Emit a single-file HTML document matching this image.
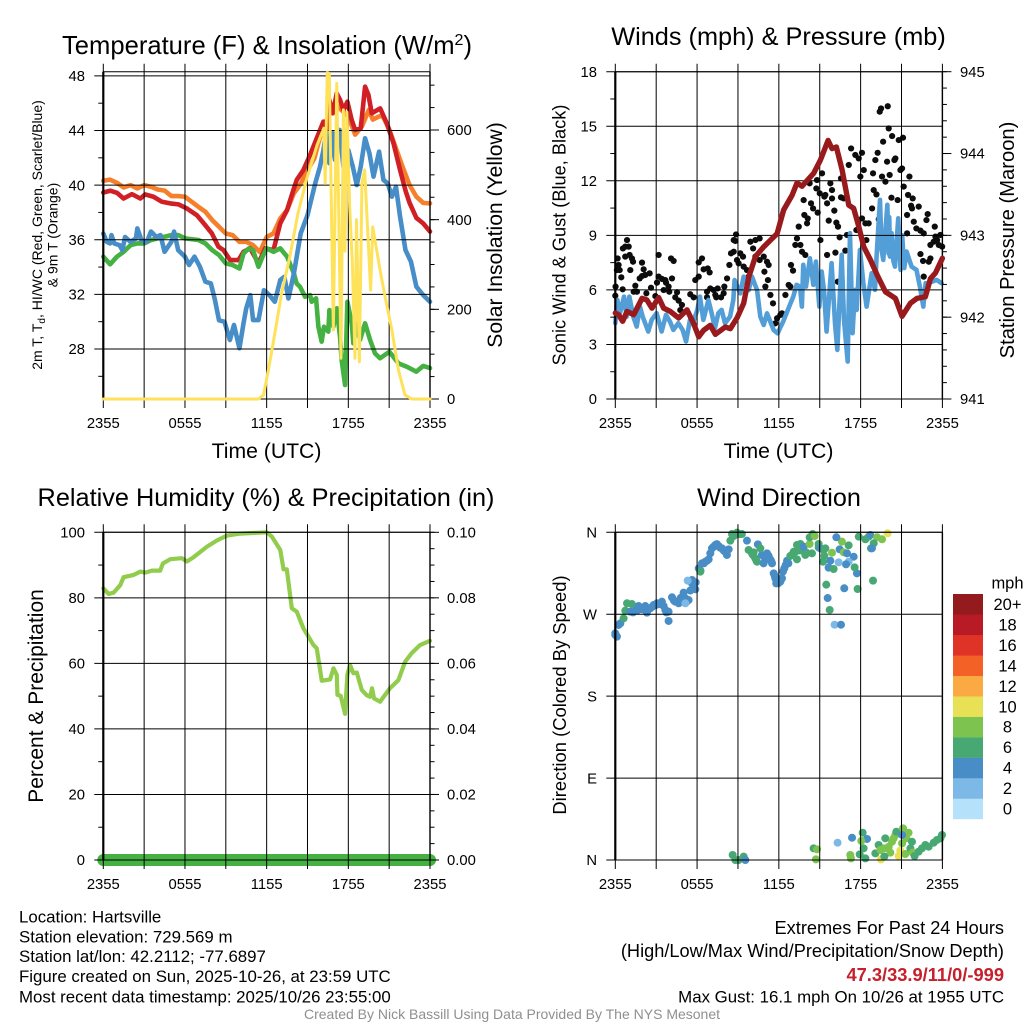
<!DOCTYPE html>
<html lang="en">
<head>
<meta charset="utf-8">
<title>Hartsville Station Meteogram</title>
<style>
html,body{margin:0;padding:0;background:#fff;width:1024px;height:1024px;overflow:hidden}
svg{display:block}
text{font-family:"Liberation Sans",sans-serif;fill:#000}
</style>
</head>
<body>
<svg id="chart" xmlns="http://www.w3.org/2000/svg" width="1024" height="1024" viewBox="0 0 1024 1024">
<rect x="0" y="0" width="1024" height="1024" fill="#fff"/>
<g id="marks"></g>
<text x="267" y="54" font-size="25.6" text-anchor="middle">Temperature (F) &amp; Insolation (W/m<tspan dy="-9" font-size="16">2</tspan><tspan dy="9">)</tspan></text>
<text x="778.5" y="45" font-size="25.3" text-anchor="middle">Winds (mph) &amp; Pressure (mb)</text>
<text x="266" y="506" font-size="25.3" text-anchor="middle">Relative Humidity (%) &amp; Precipitation (in)</text>
<text x="779" y="506" font-size="25.2" text-anchor="middle">Wind Direction</text>
<text x="266.5" y="458" font-size="21.2" text-anchor="middle">Time (UTC)</text>
<text x="778.5" y="458" font-size="21.2" text-anchor="middle">Time (UTC)</text>
<text transform="translate(42,235) rotate(-90)" font-size="14" text-anchor="middle">2m T, T<tspan dy="3" font-size="10">d</tspan><tspan dy="-3">, HI/WC (Red, Green, Scarlet/Blue)</tspan></text>
<text transform="translate(57.5,235) rotate(-90)" font-size="14" text-anchor="middle">&amp; 9m T (Orange)</text>
<text transform="translate(502,235) rotate(-90)" font-size="21.1" text-anchor="middle">Solar Insolation (Yellow)</text>
<text transform="translate(565.5,235) rotate(-90)" font-size="18.2" text-anchor="middle">Sonic Wind &amp; Gust (Blue, Black)</text>
<text transform="translate(1014,240) rotate(-90)" font-size="20.2" text-anchor="middle">Station Pressure (Maroon)</text>
<text transform="translate(43,696) rotate(-90)" font-size="21" text-anchor="middle">Percent &amp; Precipitation</text>
<text transform="translate(566,695) rotate(-90)" font-size="18.4" text-anchor="middle">Direction (Colored By Speed)</text>
<g font-size="16.85">
<text x="19" y="922.5">Location: Hartsville</text>
<text x="19" y="942.5">Station elevation: 729.569 m</text>
<text x="19" y="962">Station lat/lon: 42.2112; -77.6897</text>
<text x="19" y="982">Figure created on Sun, 2025-10-26, at 23:59 UTC</text>
<text x="19" y="1002.5">Most recent data timestamp: 2025/10/26 23:55:00</text>
</g>
<g text-anchor="end">
<text x="1004" y="934" font-size="18.2">Extremes For Past 24 Hours</text>
<text x="1004" y="957" font-size="18.2">(High/Low/Max Wind/Precipitation/Snow Depth)</text>
<text x="1004" y="981" font-size="18.3" font-weight="bold" style="fill:#c5202b">47.3/33.9/11/0/-999</text>
<text x="1004" y="1002.5" font-size="16.85">Max Gust: 16.1 mph On 10/26 at 1955 UTC</text>
</g>
<text x="512" y="1019" font-size="14" text-anchor="middle" style="fill:#8f8f8f">Created By Nick Bassill Using Data Provided By The NYS Mesonet</text>
</svg>
<script>
const gridHours = [0,3,6,9,12,15,18,21,24];
const timeTickHours = [0,6,12,18,24];
const timeTickLabels = ['2355','0555','1155','1755','2355'];

const tempTicks = [28,32,36,40,44,48];
const solarTicks = [0,200,400,600];
const windTicks = [0,3,6,9,12,15,18];
const pressureTicks = [941,942,943,944,945];
const humidityTicks = [0,20,40,60,80,100];
const precipTicks = ['0.00','0.02','0.04','0.06','0.08','0.10'];
const directionTicks = [0,90,180,270,360];
const directionLabels = ['N','E','S','W','N'];
const speedLabels = ['0','2','4','6','8','10','12','14','16','18','20+'];
const speedColors = ['#b5e2fa','#7cb9e6','#488dc5','#48a873','#7cc44f','#e8e055','#fba943','#f46127','#e03327','#b81b26','#951a1e'];

const orangeHours = [0,0.5,1,1.5,2,2.5,3,3.5,4,4.5,5,5.5,6,6.5,7,7.5,8,8.5,9,9.5,10,10.5,11,11.5,12,12.5,13,13.5,14,14.5,15,15.5,16,16.5,17,18,18.5,19,19.5,19.8,20.2,20.5,21,21.5,22,22.5,23,23.5,24];
const orangeTemp = [40.32,40.4,40.17,39.83,40,39.76,40,39.88,39.68,39.6,39.2,39.2,39.15,38.78,38.4,38.05,37.44,36.95,36.46,36.34,35.85,35.85,35.6,35.1,36.2,36.46,37.56,38.17,39.4,40.1,41.1,41.95,43.8,45,46,45,43.7,44.3,45.5,44.8,45,45.1,44.1,42.7,41.3,40,39.15,38.7,38.66];

const redHours = [0,0.51,1,1.49,2.1,2.72,3.08,3.69,4.31,4.92,5.53,6.14,6.87,7.49,7.98,8.46,8.83,9.32,9.93,10.3,10.79,11.4,11.89,12.5,13,13.5,14,14.21,14.7,15.19,15.68,16.17,16.42,16.61,16.86,17.15,17.4,17.64,17.93,18.25,18.5,18.91,19.23,19.48,19.72,20.34,20.83,21.32,21.8,22.2,22.5,23,23.5,24];
const redTemp = [39.46,39.59,39.44,39.02,39.34,39.02,39.32,39.15,38.78,38.66,38.59,38.29,37.8,37.07,36.46,35.49,35.24,34.51,34.51,35.12,35.37,34.27,35.37,35.24,37.2,38.17,39.76,40.38,41.11,42.21,43.43,44.65,44.16,46.23,45.26,46.72,46.23,45.5,46.11,44.77,44.04,44.16,47.21,46.6,45.26,45.62,44.53,43.06,41.11,39.6,38.7,37.6,37.2,36.6];

const blueHours = [0,0.25,0.5,0.6,0.8,1.2,1.4,1.6,2,2.4,2.5,2.8,3.2,3.5,3.9,4.2,4.5,5,5.2,5.5,6,6.3,6.7,7.1,7.5,7.9,8.2,8.5,8.9,9.3,9.6,10,10.3,10.5,10.8,11,11.4,11.8,12.2,12.6,13,13.3,13.6,14,14.5,15,15.56,15.92,16.17,16.37,16.61,16.86,17.03,17.35,17.64,18,18.33,18.62,18.91,19.23,19.55,19.85,20.26,20.58,20.9,21.2,21.5,21.8,22.2,22.6,23,23.5,24];
const blueTemp = [36.46,35.85,35.73,36.34,35.73,35.6,35.24,36.2,35.85,36.1,36.83,35.98,35.85,36.6,36.2,36.34,35.12,35.85,36.6,35.24,34.76,34.15,34.76,34.02,32.93,32.8,31.6,30.1,30,28.66,29.76,28.05,29.88,30.98,31.95,30.12,30.12,32.3,31.95,31.46,33.05,33.29,31.7,33.54,36.46,37.8,40.1,41.35,42.57,43.9,41.6,43.8,41.84,44.04,41.35,42.57,41.35,40,41.35,43.43,42.33,40.62,42.45,40.38,40.12,39.15,39.88,37.7,35.24,34.4,32.56,31.95,31.46];

const greenHours = [0,0.5,1,1.5,2,2.5,3,3.5,4,5,5.5,6,7,7.5,8,8.5,9,9.5,10,10.3,10.7,11,11.4,11.7,12,12.5,13,13.5,14,14.2,14.45,14.82,15.19,15.31,15.63,15.8,16.04,16.21,16.53,16.61,16.9,17.15,17.39,17.51,17.76,17.93,18.25,18.37,18.62,18.86,19.23,19.6,19.96,20.33,21.02,21.68,22.3,23,23.5,24];
const greenTemp = [34.76,34.2,34.76,35.12,35.6,35.73,35.73,35.98,36.1,36.34,36.34,36.1,35.98,35.73,35.24,34.88,34.27,34.15,33.9,35,35.37,35.24,34.02,34.76,35.37,35.12,35.37,34.76,33.54,32.8,32.56,31.83,31.95,31.46,31.71,29.63,28.54,29.63,29.27,30.85,29.63,30.98,28.9,27.19,25.36,31.46,29.88,28.41,29.88,28.66,29.88,28.66,27.68,27.32,27.8,26.95,26.7,26.34,26.76,26.6];

const solarHours = [0,11.4,11.77,12.13,12.6,13.1,13.7,14.3,14.95,15.7,16.2,16.3,16.45,16.6,16.9,17.15,17.46,17.64,17.75,17.9,18.1,18.3,18.49,18.6,18.81,19,19.2,19.35,19.64,19.79,20.33,20.7,21.2,21.68,22.16,22.65,24];
const solarValues = [0,0,9,65,146,236,317,414,492,566,604,481,728,726,154,704,91,645,330,640,428,300,91,400,83,481,511,420,243,384,288,228,154,65,9,0,0];

const windHours = [0,0.15,0.34,0.64,0.83,1.03,1.32,1.57,1.81,2.01,2.42,2.67,3.03,3.4,3.72,4.01,4.26,4.62,4.94,5.19,5.48,5.73,6.02,6.21,6.46,6.83,7.07,7.31,7.56,7.8,8.05,8.42,8.66,8.75,9.17,9.42,9.79,10.03,10.4,10.64,10.89,11.13,11.62,11.91,12.08,12.32,12.81,13.06,13.3,13.55,13.69,13.79,13.99,14.28,14.53,14.72,14.97,15.14,15.31,15.5,15.87,16.12,16.29,16.61,16.78,17.05,17.22,17.41,17.58,17.71,17.95,18.2,18.44,18.81,19.05,19.17,19.42,19.54,19.66,19.96,20.05,20.1,20.15,20.27,20.4,20.52,20.76,20.93,21.05,21.2,21.37,21.74,22.1,22.35,22.6,22.77,22.97,23.58,23.94];
const windValues = [4.17,5.45,4.72,5.63,4.53,5.63,4.53,3.98,5.08,4.53,3.71,4.35,4.72,3.71,4.63,4.26,3.8,4.17,3.8,3.16,4.35,4.26,4.9,5.63,4.35,5.45,4.72,3.89,4.72,4.9,4.17,4.53,5.45,6.54,5.81,6.73,5.99,6.73,5.99,4.53,4.07,4.71,3.79,3.61,3.89,4.26,5.18,5.63,6.28,6.18,5.08,7.38,6.18,7.74,6.28,7.56,5.08,7.01,6,3.71,7.47,4.17,2.7,7.93,4.35,2.06,9.12,3.62,6,4.9,8.2,6.37,5.08,6.92,6,7.83,10.95,8.2,7.65,10.68,8,10,7.83,9.12,7.6,7.28,9.94,7.1,9,7.2,8.11,7.28,7.1,6.18,5.08,6.37,6.37,6.55,6.37];

const gustHours = [0,0.02,0.12,0.17,0.24,0.32,0.44,0.54,0.56,0.73,0.86,0.98,0.73,1.05,1.22,1.3,1.1,1.35,1.47,1.59,1.79,1.96,2.08,1.96,2.2,2.52,2.28,2.62,2.94,3.06,3.18,3.18,3.43,3.67,3.72,3.91,3.96,4.16,4.09,4.28,3.55,4.53,4.4,4.65,4.89,4.77,5.5,5.75,5.87,6.12,6.12,6.36,6.48,6.78,6.92,6.73,6.73,6.97,7.22,7.34,7.51,7.41,7.76,7.95,8,8.2,8.37,8.49,8.69,8.69,8.86,8.81,8.93,9.17,9.37,9.05,9.42,9.66,9.79,9.91,10.11,10.28,10.59,10.28,10.59,10.89,11.13,11.25,10.94,11.2,11.01,11.38,11.57,11.87,12.11,12.23,11.74,12.48,12.72,12.84,12.89,13.04,13.21,13.33,13.46,13.58,13.7,13.94,13.82,13.87,14.07,14.12,14.26,14.36,14.51,14.8,14.75,14.85,15,15.05,15.17,15.34,15.41,15.54,15.78,15.9,15.9,16.07,15.66,16.22,16.34,16.46,16.56,16.76,16.56,17.13,17.3,17.61,17.86,18.1,17.98,18.23,17,16.15,16.88,15.54,16.32,17.69,18.1,18.35,18.59,18.42,18.84,18.96,19.16,19.08,19.25,18.91,19.33,19.4,19.5,19.99,19.65,20.06,20.31,19.94,19.57,19.82,20.13,20.55,20.48,20.92,21.04,20.8,21.11,21.58,20.26,20.72,21.16,21.48,21.82,21.7,21.77,21.41,22.26,21.9,21.41,22.09,22.39,22.63,22.92,22.83,22.39,22.58,23.12,23,22.63,23.12,23.44,23.36,23.61,23.85,23.73,23.98,23.49];
const gustValues = [5.68,6.18,7.09,7.73,7.37,7.09,6.69,6.03,8.28,8.38,8.74,8.38,7.83,7.92,7.73,7.55,7.09,5.9,6.23,5.9,6.63,7.5,7.13,6.76,6.82,6.91,5.81,6.12,5.66,6.4,7.92,6.73,6.6,6.54,6.4,6.18,5.9,6.63,7.73,7.59,5.99,5.87,5.59,5.41,5.17,4.89,5.76,5.59,6.54,6.73,7.51,7.73,7.13,7.18,6.96,5.9,5.59,6.08,5.99,5.72,6.08,5.59,5.59,5.81,6.18,6.63,7.37,8.01,8.1,8.74,9.05,8.69,7.64,8.01,7.83,7.46,7.28,7.09,6.73,8.65,8.28,8.74,8.83,7.83,7.64,7.83,7.55,7.37,7,6.54,6.18,5.72,5.26,4.44,4.62,4.71,4.16,5.72,6.27,6.18,7.37,7.06,8.47,8.83,9.48,8.47,8.1,7.92,10.94,10.12,9.66,9.93,11.86,10.76,10.48,12.04,11.58,10.25,11.31,8.74,12.41,11.13,11.22,10.76,11.86,11.49,11.03,10.36,9.81,9.7,9.48,8.89,11.09,11.03,12.13,12.87,13.78,13.42,13.23,13.54,12.23,12.59,9.02,8.05,8.16,7.92,6.45,9.29,9.93,9.66,9.66,8.74,10.48,11.49,11.25,13.14,13.54,12.41,9.88,15.8,15.98,16.1,14.15,14.88,14.46,13.05,12.23,11.95,12.32,13.23,13.14,12.59,12.68,14.24,14.37,12.23,11.07,10.94,11.68,11.22,11.03,10.63,10.48,10.12,10.58,9.75,9.11,9.38,9.26,9.11,10.17,9.84,7.97,7.59,7.73,7.55,6.73,8.47,9.48,8.65,8.74,9.02,8.47,8.38,8.93];

const pressureHours = [0,0.24,0.54,0.86,1.35,1.96,2.32,2.69,3.18,3.55,4.04,4.65,5.26,5.75,6.12,6.48,6.97,7.34,8.07,8.44,8.93,9.42,9.79,10.28,10.89,11.5,11.87,12.35,12.97,13.33,13.7,14.56,15.05,15.61,15.9,16.22,16.64,17.13,17.49,17.86,18.23,18.72,19.2,19.82,20.55,21.04,21.65,22.14,22.75,23.12,23.49,24];
const pressureValues = [942.05,942.03,941.95,942.07,942.03,942.23,942.21,942.11,942.24,942.11,942.07,941.99,942.09,941.92,941.76,941.84,941.9,941.79,941.88,941.86,941.99,942.17,942.49,942.74,942.86,942.96,943.02,943.31,943.49,943.64,943.6,943.76,943.92,944.16,944.06,944.08,943.8,943.37,943.33,943.11,942.86,942.7,942.52,942.31,942.23,942.01,942.17,942.23,942.25,942.47,942.54,942.72];

const humidityHours = [0,0.39,0.76,1.25,1.49,2.23,2.72,3.08,3.57,4.18,4.38,4.92,5.77,6.14,6.63,7.61,8.34,9.08,10.06,12.01,12.38,13,13.24,13.48,13.85,14.21,14.7,15.44,15.68,16.05,16.66,16.91,17.15,17.2,17.44,17.76,17.93,18.13,18.37,18.62,18.99,19.35,19.6,19.74,19.89,20.33,21.06,21.68,22.17,22.65,23.27,24];
const humidityValues = [82.9,81.2,81.6,83.9,86.3,87,88,87.7,88.3,88.3,90.5,91.8,92.1,91.1,92.4,95.6,97.5,99,99.6,100,98.7,94.6,88.7,88.7,76.8,75.8,70.7,65.6,64.6,54.7,55.1,58.5,56.5,50.4,50.1,44.6,56.5,59.5,57,57.2,51.9,50.3,49.8,52.4,49.3,48.3,52.4,54.9,60.5,63.1,65.6,66.9];

const precipHours = [0,24];
const precipValues = [0,0];

const directionHours = [1.3,1.6,1.85,2.1,2.4,2.7,2.95,3.2,3.55,3.75,4.3,4.55,4.8,5.25,5.5,5.75,5.9,6.25,6.5,6.75,7.2,7.45,7.7,7.95,8.1,10.75,11,11.25,11.45,11.7,11.95,12.5,12.7,8.7,9.1,10.1,10.35,10.15,13,13.45,13.7,14,0,0,0.12,0.24,0.37,0.61,0.73,0.86,1.22,1.1,1.47,1.71,1.96,2.2,2.32,2.57,2.81,3.06,3.42,3.67,3.91,3.91,4.16,4.4,4.65,5.01,5.38,5.14,5.63,5.87,5.63,5.31,5.14,6.12,6.24,6.36,6.6,6.85,6.97,7.09,7.34,7.58,7.83,8.19,8.32,8.44,8.56,8.93,9.29,9.66,10.46,9.78,10.03,10.27,10.64,10.4,10.88,11.13,11.37,11.5,11.62,11.74,11.81,12.11,12.23,12.3,12.4,12.6,12.84,13.09,13.33,13.58,13.21,13.82,13.33,13.94,14.43,14.26,14.26,14.48,14.63,14.92,14.92,15.04,15.29,15.41,15.34,15.24,15.9,15.78,15.65,16.02,15.48,15.58,15.73,16.09,16.56,16.8,17.78,18.91,17.73,17.56,17.49,17.12,16.63,16.22,16.46,16.76,17,17.12,16.93,16.39,17.86,18.35,18.59,18.71,19.2,19.57,19.98,18.96,18.76,18.83,8.61,8.81,9.05,9.42,9.54,14.55,14.8,14.72,16.31,17.37,18.15,18.47,18.05,18.22,17.24,17.29,17.93,18.35,19.32,19.08,19.81,19.45,19.74,20.06,20.3,20.42,20.55,20.62,20.18,19.49,19.74,21.11,21.52,21.35,21.04,21.04,20.79,20.91,21.28,21.77,21.65,21.82,21.96,22.26,22.5,22.75,22.99,23.36,23.6,23.85,23.97];
const directionDegrees = [272,274,276,276,275,278,280,281,279,272,285,284,288,284,296,300,305,318,326,329,344,347,343,340,338,335,330,334,328,312,304,324,326,356,358,335,329,338,336,340,340,338,249,247.2,245.4,258.2,260,265.5,273.9,282,281.2,272.8,273.9,279,275.4,279,271.7,276.5,280.1,282,283.8,274.7,262.6,272.8,288.6,283.8,282,293.7,285.6,287.5,303.9,297.4,307.6,306.9,282,320.4,316.8,325.9,327.7,330.3,336.9,342.4,346.1,345,342.4,335.1,341.3,350.8,358.1,359.6,358.1,350.8,346.8,340.6,336.9,331.4,342.4,327.7,325.9,336.9,330.3,325.9,314.9,309.4,303.9,305.8,309.4,316.8,320.4,328.8,334,338.7,346.1,347.2,338.7,344.2,330.3,335.1,336.9,347.2,354.5,358.1,356,343.5,347.2,342.4,340.6,342.4,334,327.7,337.6,328.8,321.2,319.7,302.5,287.8,274.7,258.5,258.5,298.5,297.7,306.9,314.9,321.5,333.2,345.7,349.7,354.5,341.3,338,336.9,327.7,324.8,327,355.2,352.3,355.2,357,354.5,352.3,358.9,347.9,342.4,342.4,5.5,0,0,3.7,0,12.8,11.7,0.7,19,24.5,30,23.1,20.9,12.8,5.5,1.8,6.2,1.8,16.5,7.3,23.8,11,12.8,14.6,20.1,23.8,27.5,31.1,8.1,0.7,3.7,34.8,30,23.8,27.5,18.3,4.4,10.3,6.6,20.1,12.8,8.1,4.4,9.2,12.8,16.5,14.6,19,22,23.8,27.5];
const directionSpeeds = [4,4,4,4,4,4,4,4,4,4,4,4,4,4,4,4,4,4,4,4,4,4,4,4,4,4,4,4,4,4,4,4,4,6,6,6,6,6,6,6,6,6,4,4,4,4,4,6,6,6,6,4,4,4,4,4,4,4,4,4,4,4,4,4,4,4,4,4,4,4,4,4,4,2,2,4,6,4,4,4,4,4,4,4,4,4,4,6,6,6,6,4,4,6,6,6,6,6,4,4,4,4,4,4,4,4,4,4,4,4,6,6,6,6,6,4,6,6,6,8,6,6,8,6,6,4,6,6,6,6,8,4,4,6,6,4,6,2,4,4,6,6,4,6,4,6,8,4,4,8,4,2,4,2,6,6,6,4,8,8,10,6,6,4,6,6,6,6,4,6,8,8,2,4,6,4,8,6,8,8,6,6,6,6,6,8,8,8,8,8,8,6,8,10,6,8,8,8,4,8,10,10,8,6,6,8,6,6,6,6,6,6,6,6,6];

const SVG_NS = 'http://www.w3.org/2000/svg';
const marks = document.getElementById('marks');

function lerp(v, d0, d1, p0, p1){ return p0 + (v - d0) * (p1 - p0) / (d1 - d0); }
const xLeft = h => lerp(h, 0, 24, 103.3, 430);
const xRight = h => lerp(h, 0, 24, 615.3, 942.4);
const yTemp = v => lerp(v, 44, 28, 130.5, 349);
const ySolar = v => lerp(v, 0, 600, 399, 130);
const yWind = v => lerp(v, 0, 18, 399, 71.7);
const yPressure = v => lerp(v, 941, 945, 399, 71.7);
const yHumidity = v => lerp(v, 0, 100, 860, 532.3);
const yPrecip = v => lerp(v, 0, 0.1, 860, 532.3);
const yDirection = v => lerp(v, 0, 360, 860, 532.3);

function line(parent, x1, y1, x2, y2, width, name){
  const el = document.createElementNS(SVG_NS, 'line');
  
  
  el.setAttribute('x1', x1);
  el.setAttribute('y1', y1);
  el.setAttribute('x2', x2);
  el.setAttribute('y2', y2);
  el.setAttribute('stroke', '#000');
  el.setAttribute('stroke-width', width);
  parent.appendChild(el);
  return el;
}
function label(parent, x, y, text, anchor, name){
  const el = document.createElementNS(SVG_NS, 'text');
  
  
  el.setAttribute('x', x);
  el.setAttribute('y', y);
  el.setAttribute('font-size', '14.8');
  el.setAttribute('text-anchor', anchor);
  el.textContent = text;
  parent.appendChild(el);
  return el;
}
function group(name){
  const el = document.createElementNS(SVG_NS, 'g');
  
  
  marks.appendChild(el);
  return el;
}
function series(parent, hours, values, xFn, yFn, color, width, name){
  const el = document.createElementNS(SVG_NS, 'polyline');
  
  
  el.setAttribute('points', hours.map((h, i) => xFn(h).toFixed(2) + ',' + yFn(values[i]).toFixed(2)).join(' '));
  el.setAttribute('fill', 'none');
  el.setAttribute('stroke', color);
  el.setAttribute('stroke-width', width);
  el.setAttribute('stroke-linejoin', 'round');
  el.setAttribute('stroke-linecap', 'round');
  parent.appendChild(el);
  return el;
}
function dot(parent, cx, cy, r, color, name){
  const el = document.createElementNS(SVG_NS, 'circle');
  
  
  el.setAttribute('cx', cx);
  el.setAttribute('cy', cy);
  el.setAttribute('r', r);
  el.setAttribute('fill', color);
  parent.appendChild(el);
  return el;
}
function speedColor(speed){
  const i = Math.min(speedColors.length - 1, Math.max(0, Math.round(speed / 2)));
  return speedColors[i];
}
function frame(xFn, top, bottom, yList, yFn, prefix){
  const g = group(prefix + '-grid');
  gridHours.forEach(h => {
    line(g, xFn(h), top - 8, xFn(h), bottom + 9, 1, prefix + '-vertical-gridline');
  });
  yList.forEach(v => {
    line(g, xFn(0) - 9, yFn(v), xFn(24) + 0.5, yFn(v), 1, prefix + '-horizontal-gridline');
  });
  line(g, xFn(0), top, xFn(0), bottom, 2.2, prefix + '-left-axis');
  line(g, xFn(24), top, xFn(24), bottom, 1.4, prefix + '-right-axis');
  line(g, xFn(0), top, xFn(24), top, 1, prefix + '-top-axis');
  line(g, xFn(0), bottom, xFn(24), bottom, 1, prefix + '-bottom-axis');
  timeTickHours.forEach((h, i) => {
    label(g, xFn(h), bottom + 29, timeTickLabels[i], 'middle', prefix + '-time-tick-label');
  });
  return g;
}
function leftMinors(g, xFn, values, yFn, name){
  values.forEach(v => line(g, xFn(0) - 5, yFn(v), xFn(0), yFn(v), 1, name));
}
function rightTicks(g, xFn, minors, majors, yFn, name){
  minors.forEach(v => line(g, xFn(24), yFn(v), xFn(24) + 4.5, yFn(v), 1, name + '-minor-tick'));
  majors.forEach(v => line(g, xFn(24), yFn(v), xFn(24) + 9, yFn(v), 1, name + '-major-tick'));
}
function stepped(start, stop, step){
  const out = [];
  for (let v = start; v <= stop + step / 100; v += step) out.push(v);
  return out;
}

/* Temperature & insolation panel */
const tempLines = group('temperature-series');
series(tempLines, orangeHours, orangeTemp, xLeft, yTemp, '#f57f2a', 4.6, 'nine-metre-temperature-line');
series(tempLines, redHours, redTemp, xLeft, yTemp, '#d11f26', 4.6, 'two-metre-temperature-line');
series(tempLines, greenHours, greenTemp, xLeft, yTemp, '#44b142', 4.6, 'dewpoint-line');
series(tempLines, blueHours, blueTemp, xLeft, yTemp, '#478dc7', 4.6, 'wind-chill-line');
const tempGrid = frame(xLeft, 71.7, 399, tempTicks, yTemp, 'temperature-panel');
leftMinors(tempGrid, xLeft, [26,30,34,38,42,46], yTemp, 'temperature-minor-tick');
rightTicks(tempGrid, xLeft, stepped(0, 700, 50), solarTicks, ySolar, 'solar');
tempTicks.forEach(v => label(tempGrid, 85, yTemp(v) + 5.2, String(v), 'end', 'temperature-tick-label'));
solarTicks.forEach(v => label(tempGrid, 447, ySolar(v) + 5.2, String(v), 'start', 'solar-tick-label'));
const solarLine = group('solar-series');
series(solarLine, solarHours, solarValues, xLeft, ySolar, '#fde25a', 3, 'solar-insolation-line');

/* Wind & pressure panel */
const windMarks = group('wind-series');
gustHours.forEach((h, i) => {
  const el = dot(windMarks, xRight(h), yWind(gustValues[i]), 3.1, '#0d0d0d', 'gust-point');
  
});
series(windMarks, windHours, windValues, xRight, yWind, '#549ed8', 4.6, 'sonic-wind-line');
const windGrid = frame(xRight, 71.7, 399, windTicks, yWind, 'wind-panel');
leftMinors(windGrid, xRight, [1.5,4.5,7.5,10.5,13.5,16.5], yWind, 'wind-minor-tick');
rightTicks(windGrid, xRight, stepped(941, 945, 0.2), pressureTicks, yPressure, 'pressure');
windTicks.forEach(v => label(windGrid, 597, yWind(v) + 5.2, String(v), 'end', 'wind-tick-label'));
pressureTicks.forEach(v => label(windGrid, 960, yPressure(v) + 5.2, String(v), 'start', 'pressure-tick-label'));
const pressureLine = group('pressure-series');
series(pressureLine, pressureHours, pressureValues, xRight, yPressure, '#991a1d', 5.4, 'station-pressure-line');

/* Humidity & precipitation panel */
const humidityMarks = group('humidity-series');
series(humidityMarks, humidityHours, humidityValues, xLeft, yHumidity, '#92cc4c', 4.2, 'relative-humidity-line');
series(humidityMarks, precipHours, precipValues, xLeft, yPrecip, '#44b142', 12, 'precipitation-line');
const humidityGrid = frame(xLeft, 532.3, 860, humidityTicks, yHumidity, 'humidity-panel');
leftMinors(humidityGrid, xLeft, [10,30,50,70,90], yHumidity, 'humidity-minor-tick');
rightTicks(humidityGrid, xLeft, stepped(0, 0.1, 0.005), precipTicks.map(Number), yPrecip, 'precipitation');
humidityTicks.forEach(v => label(humidityGrid, 85, yHumidity(v) + 5.2, String(v), 'end', 'humidity-tick-label'));
precipTicks.forEach(v => label(humidityGrid, 447, yPrecip(Number(v)) + 5.2, v, 'start', 'precipitation-tick-label'));

/* Wind direction panel */
const directionMarks = group('direction-series');
directionHours.forEach((h, i) => {
  const el = dot(directionMarks, xRight(h), yDirection(directionDegrees[i]), 4, speedColor(directionSpeeds[i]), 'direction-point');
  
});
const directionGrid = frame(xRight, 532.3, 860, directionTicks, yDirection, 'direction-panel');
directionTicks.forEach((v, i) => label(directionGrid, 597, yDirection(v) + 5.2, directionLabels[i], 'end', 'direction-tick-label'));

/* Speed colour bar */
const speedBar = group('speed-legend');
const unitLabel = label(speedBar, 1007.5, 588.5, 'mph', 'middle', 'speed-legend-unit');

unitLabel.setAttribute('font-size', '16.5');
speedColors.forEach((color, i) => {
  const top = lerp(i + 1, 0, speedColors.length, 819, 594);
  const box = document.createElementNS(SVG_NS, 'rect');
  
  
  box.setAttribute('x', 953);
  box.setAttribute('y', top);
  box.setAttribute('width', 30);
  box.setAttribute('height', 225 / speedColors.length + 0.2);
  box.setAttribute('fill', color);
  speedBar.appendChild(box);
  const tick = label(speedBar, 1007.5, top + 16, speedLabels[i], 'middle', 'speed-legend-label');
  tick.setAttribute('font-size', '16.5');
});
</script>
</body>
</html>
